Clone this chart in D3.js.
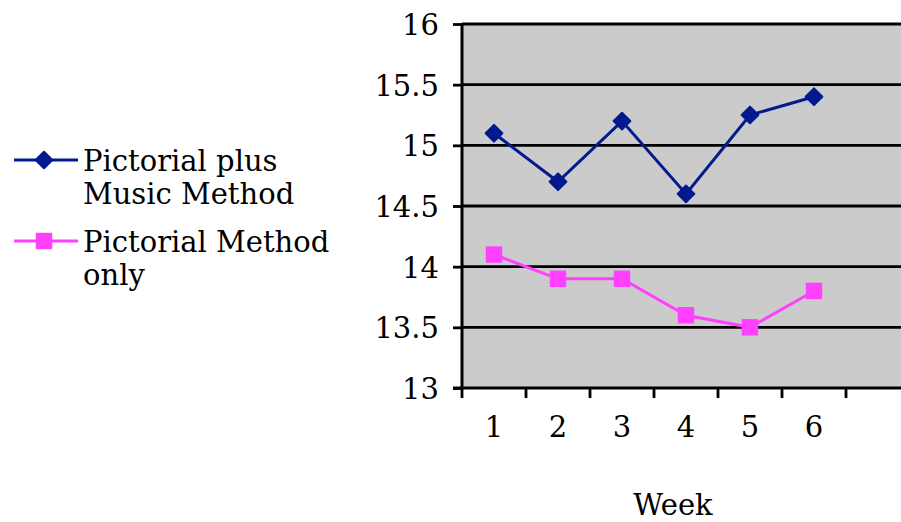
<!DOCTYPE html>
<html>
<head>
<meta charset="utf-8">
<script src="https://cdn.jsdelivr.net/npm/d3@7"></script>
<style>
  body { margin: 0; background: #fff; }
  svg text { font-family: "DejaVu Serif", "Liberation Serif", serif; fill: #000; }
</style>
</head>
<body>
<svg id="chart" width="901" height="522"></svg>
<script>
// data
var weeks = [1, 2, 3, 4, 5, 6];
var seriesNames = ["Pictorial plus Music Method", "Pictorial Method only"];
var musicValues = [15.1, 14.7, 15.2, 14.6, 15.25, 15.4];
var pictorialValues = [14.1, 13.9, 13.9, 13.6, 13.5, 13.8];
var yTicks = [13, 13.5, 14, 14.5, 15, 15.5, 16];
var slotCount = 7;   // the category axis has one more empty slot, cut off at the right

var svg = d3.select("#chart");

var plotLeft = 462, plotTop = 24, plotBottom = 388;
var slotW = 64;
var fontSize = 29;

var x = d3.scaleLinear()
  .domain([0.5, slotCount + 0.5])
  .range([plotLeft, plotLeft + slotW * slotCount]);
var y = d3.scaleLinear()
  .domain([13, 16])
  .range([plotBottom, plotTop]);

// plot background
svg.append("rect")
  .attr("x", plotLeft)
  .attr("y", plotTop)
  .attr("width", x(slotCount + 0.5) - plotLeft)
  .attr("height", plotBottom - plotTop)
  .attr("fill", "#cbcbcb");

// gridlines
svg.append("g")
  .selectAll("line")
  .data(yTicks.slice(1))
  .enter()
  .append("line")
  .attr("x1", plotLeft)
  .attr("x2", 901)
  .attr("y1", function(d) { return y(d); })
  .attr("y2", function(d) { return y(d); })
  .attr("stroke", "#000")
  .attr("stroke-width", 2.8);

// y axis
var yAxis = d3.axisLeft(y)
  .tickValues(yTicks)
  .tickSize(9)
  .tickPadding(14)
  .tickFormat(function(d) { return d; });

var gy = svg.append("g")
  .attr("transform", "translate(" + plotLeft + ",0)")
  .call(yAxis);
gy.select(".domain").remove();
gy.selectAll(".tick line").attr("stroke", "#000").attr("stroke-width", 2.8);
gy.selectAll(".tick text")
  .attr("font-size", fontSize)
  .attr("font-family", null)
  .attr("dy", "0.36em");

svg.append("line")
  .attr("x1", plotLeft).attr("x2", plotLeft)
  .attr("y1", plotTop).attr("y2", plotBottom + 1.5)
  .attr("stroke", "#000").attr("stroke-width", 3);

// x axis: ticks at slot boundaries, labels at slot centres
svg.append("line")
  .attr("x1", plotLeft - 9).attr("x2", 901)
  .attr("y1", plotBottom).attr("y2", plotBottom)
  .attr("stroke", "#000").attr("stroke-width", 3);

var bounds = d3.range(0, slotCount).map(function(i) { return i + 0.5; });
svg.append("g")
  .selectAll("line")
  .data(bounds)
  .enter()
  .append("line")
  .attr("x1", function(d) { return x(d); })
  .attr("x2", function(d) { return x(d); })
  .attr("y1", plotBottom)
  .attr("y2", plotBottom + 10)
  .attr("stroke", "#000")
  .attr("stroke-width", 2.8);

svg.append("g")
  .selectAll("text")
  .data(weeks)
  .enter()
  .append("text")
  .attr("x", function(d) { return x(d); })
  .attr("y", 437)
  .attr("text-anchor", "middle")
  .attr("font-size", fontSize)
  .text(function(d) { return d; });

svg.append("text")
  .attr("x", 673)
  .attr("y", 515)
  .attr("text-anchor", "middle")
  .attr("font-size", fontSize)
  .text("Week");

// series
var blue = "#021a8e";
var pink = "#ff40ff";

var line = d3.line()
  .x(function(d, i) { return x(weeks[i]); })
  .y(function(d) { return y(d); });

svg.append("path")
  .datum(musicValues)
  .attr("d", line)
  .attr("fill", "none")
  .attr("stroke", blue)
  .attr("stroke-width", 3);

svg.append("path")
  .datum(pictorialValues)
  .attr("d", line)
  .attr("fill", "none")
  .attr("stroke", pink)
  .attr("stroke-width", 3);

var diamond = d3.symbol().type(d3.symbolSquare).size(140);
var square = d3.symbol().type(d3.symbolSquare).size(270);

svg.append("g")
  .selectAll("path")
  .data(musicValues)
  .enter()
  .append("path")
  .attr("d", diamond)
  .attr("transform", function(d, i) {
    return "translate(" + x(weeks[i]) + "," + y(d) + ") rotate(45)";
  })
  .attr("fill", blue)
  .attr("stroke", blue)
  .attr("stroke-width", 2)
  .attr("stroke-linejoin", "round");

svg.append("g")
  .selectAll("path")
  .data(pictorialValues)
  .enter()
  .append("path")
  .attr("d", square)
  .attr("transform", function(d, i) {
    return "translate(" + x(weeks[i]) + "," + y(d) + ")";
  })
  .attr("fill", pink);

// legend
var legend = [
  { color: blue, sym: "diamond", lines: ["Pictorial plus", "Music Method"], cy: 160 },
  { color: pink, sym: "square", lines: ["Pictorial Method", "only"], cy: 241 }
];

legend.forEach(function(l) {
  var g = svg.append("g");
  g.append("line")
    .attr("x1", 14).attr("x2", 78)
    .attr("y1", l.cy).attr("y2", l.cy)
    .attr("stroke", l.color).attr("stroke-width", 3);
  if (l.sym === "diamond") {
    g.append("path")
      .attr("d", diamond)
      .attr("transform", "translate(44," + l.cy + ") rotate(45)")
      .attr("fill", l.color)
      .attr("stroke", l.color)
      .attr("stroke-width", 2)
      .attr("stroke-linejoin", "round");
  } else {
    g.append("path")
      .attr("d", square)
      .attr("transform", "translate(44," + l.cy + ")")
      .attr("fill", l.color);
  }
  l.lines.forEach(function(t, i) {
    g.append("text")
      .attr("x", 83)
      .attr("y", l.cy + 11 + i * 33)
      .attr("font-size", fontSize)
      .text(t);
  });
});
</script>
</body>
</html>
